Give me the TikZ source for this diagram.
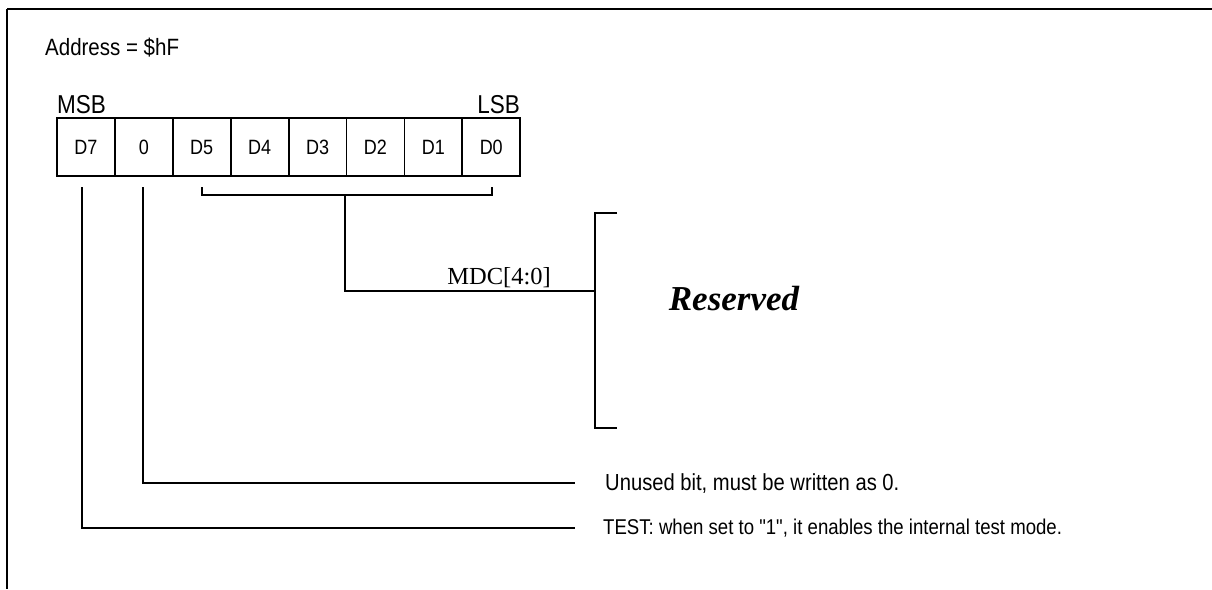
\documentclass[tikz,border=0pt]{standalone}
\usepackage{fontspec}
\setmainfont{Liberation Sans}
\newfontfamily\serifrm{Liberation Serif}
\newcommand{\tallx}[1]{\scalebox{1}[1.15]{#1}}
\tikzset{
  cell/.style={draw, line width=1.8pt, minimum width=57.9pt, minimum height=58pt, inner sep=0pt, font=\fontsize{18}{20}\selectfont},
  lbl/.style={inner sep=0pt, font=\fontsize{20.5}{22}\selectfont},
  desc/.style={inner sep=0pt},
  wire/.style={line width=1.4pt},
}
\begin{document}
\begin{tikzpicture}[x=1pt,y=-1pt]
\useasboundingbox (0,0) rectangle (1212,589);
% frame
\draw[line width=2.2pt] (7,9) -- (1212,9);
\draw[line width=1.4pt] (7,9) -- (7,589);
% title texts
\node[lbl, anchor=base west] (addr) at (45,55) {\tallx{Address = \$hF}};
\node[lbl, anchor=base west, font=\fontsize{22.5}{24}\selectfont] (msb) at (57,113) {\tallx{MSB}};
\node[lbl, anchor=base east, font=\fontsize{22.5}{24}\selectfont] (lsb) at (520,113) {\tallx{LSB}};
% register cells
\foreach \i/\t [count=\k from 0] in {7/D7,6/0,5/D5,4/D4,3/D3,2/D2,1/D1,0/D0}{
  \node[cell] (c\i) at ({57+28.95+57.9*\k},147) {\tallx{\t}};
}
% labels
\node[desc, anchor=base east, font=\serifrm\fontsize{24.5}{26}\selectfont] (mdc) at (551,284) {MDC[4:0]};
\node[desc, anchor=base, font=\serifrm\bfseries\itshape\fontsize{35}{38}\selectfont] (res) at (734,310) {Reserved};
\node[desc, anchor=base west, font=\fontsize{20.2}{22}\selectfont] (unused) at (605,490) {\tallx{Unused bit, must be written as 0.}};
\node[desc, anchor=base west, font=\fontsize{18.6}{20}\selectfont] (test) at (603,534) {\tallx{TEST: when set to \textquotedbl1\textquotedbl, it enables the internal test mode.}};
% coordinates
\coordinate (bl) at (202,187);
\coordinate (br) at (492,187);
\coordinate (bm) at (345,195);
\coordinate (brk) at (595,291);
\coordinate (ue) at (575,483);
\coordinate (te) at (575,528);
% bracket under D5..D0
\draw[wire] (bl) -- (202,195) -- (492,195) -- (br);
\draw[wire] (bm) |- (brk);
\draw[wire] (617,213) -- (595,213) -- (595,428) -- (617,428);
% bit 6 (0) line
\draw[wire] (143,187) |- (ue);
% bit 7 line
\draw[wire] (82,187) |- (te);
\end{tikzpicture}
\end{document}
